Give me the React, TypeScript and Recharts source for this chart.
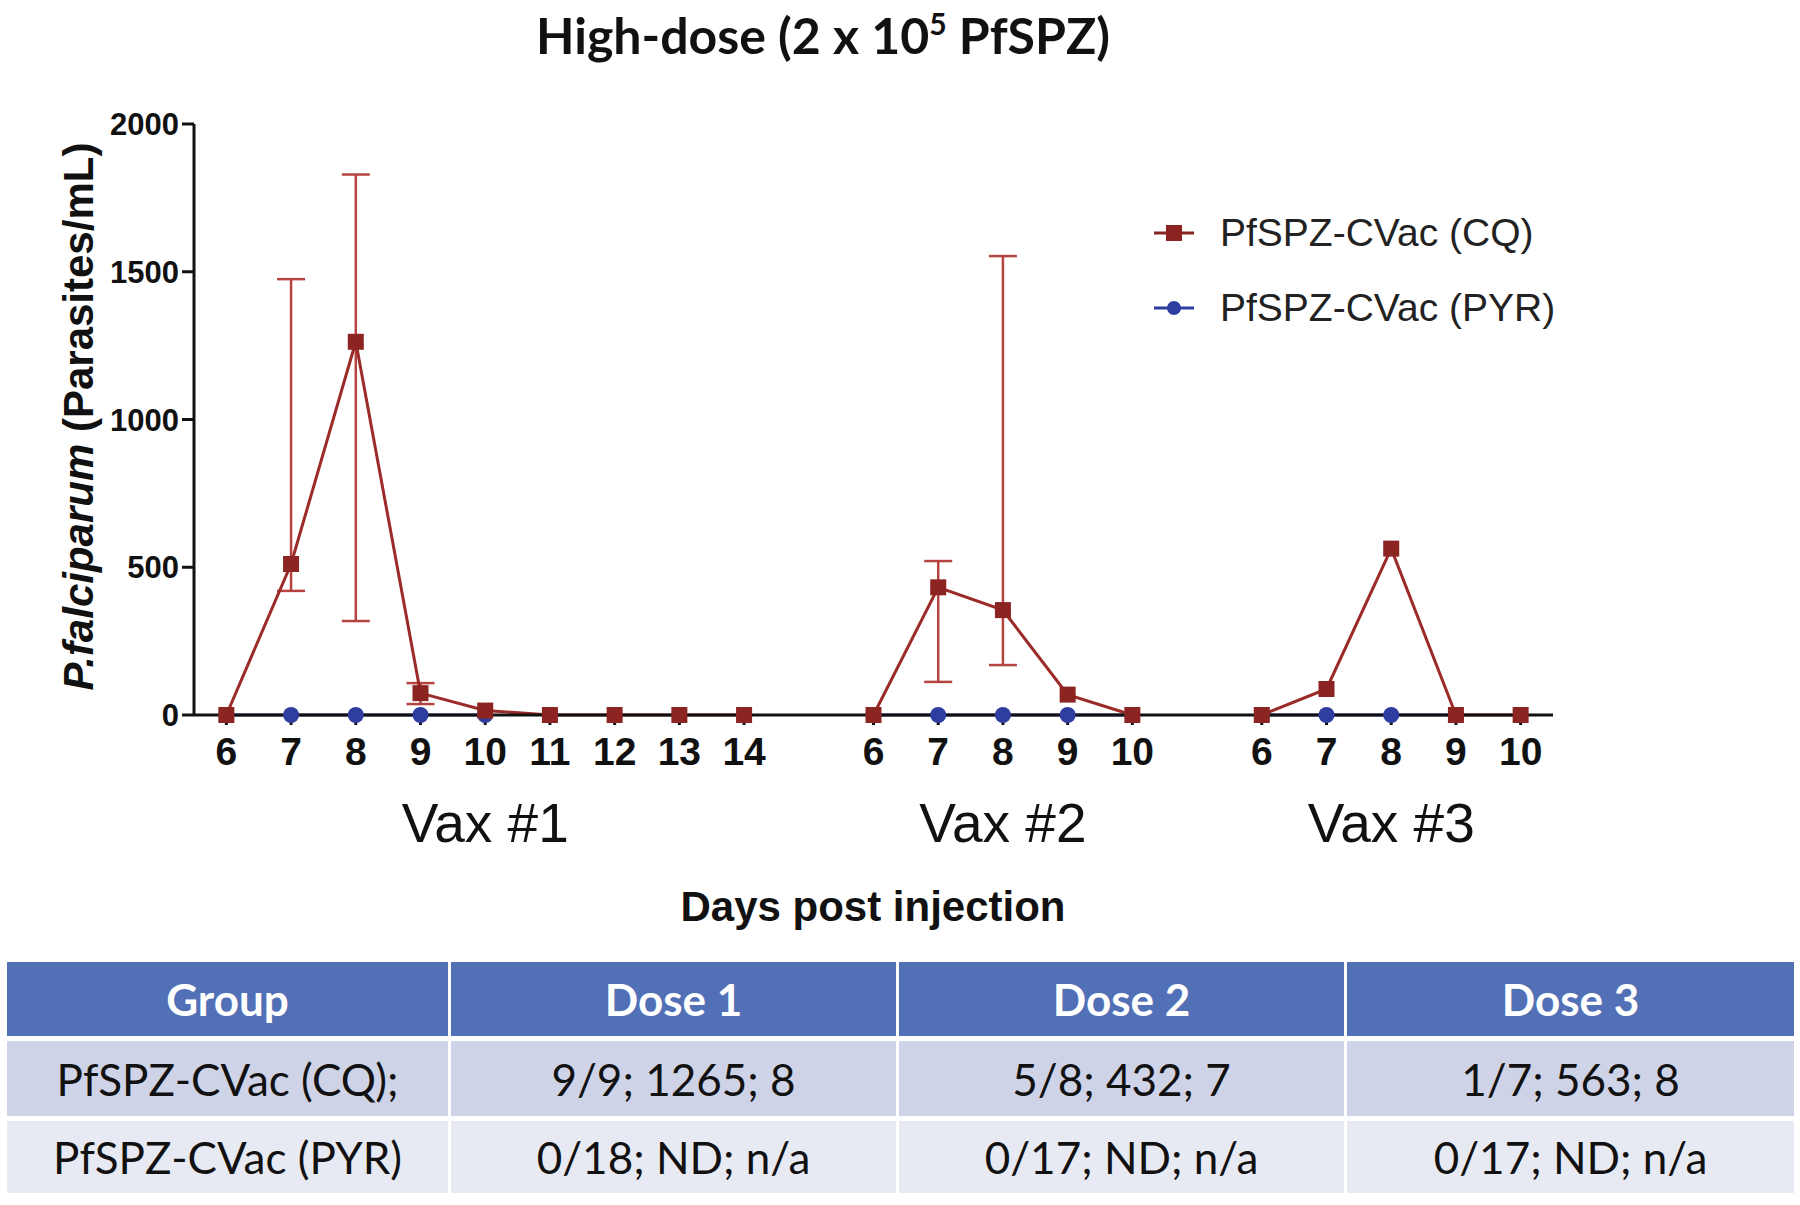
import { LineChart, Line, XAxis, YAxis, ErrorBar } from "recharts";

// days sampled after each vaccination
const vax1Days = [6, 7, 8, 9, 10, 11, 12, 13, 14];
const vax2Days = [6, 7, 8, 9, 10];
const vax3Days = [6, 7, 8, 9, 10];
const groupLabels = ["Vax #1", "Vax #2", "Vax #3"];

// PfSPZ-CVac (CQ) means + error bar bounds
const cqVax1 = [0, 511, 1263, 74, 15, 0, 0, 0, 0];
const cqVax1Low = [null, 420, 318, 37, null, null, null, null, null];
const cqVax1High = [null, 1475, 1829, 108, null, null, null, null, null];
const cqVax2 = [0, 432, 355, 69, 0];
const cqVax2Low = [null, 112, 169, null, null];
const cqVax2High = [null, 521, 1553, null, null];
const cqVax3 = [0, 88, 563, 0, 0];
const cqVax3Low = [null, null, null, null, null];
const cqVax3High = [null, null, null, null, null];

// PfSPZ-CVac (PYR)
const pyrVax1 = [0, 0, 0, 0, 0, null, null, null, null];
const pyrVax2 = [0, 0, 0, 0, 0];
const pyrVax3 = [0, 0, 0, 0, null];

const yTicks = [0, 500, 1000, 1500, 2000];

const tableHeader = ["Group", "Dose 1", "Dose 2", "Dose 3"];
const tableCq = ["PfSPZ-CVac (CQ);", "9/9; 1265; 8", "5/8; 432; 7", "1/7; 563; 8"];
const tablePyr = ["PfSPZ-CVac (PYR)", "0/18; ND; n/a", "0/17; ND; n/a", "0/17; ND; n/a"];

const groups = [
  { days: vax1Days, cq: cqVax1, lo: cqVax1Low, hi: cqVax1High, pyr: pyrVax1 },
  { days: vax2Days, cq: cqVax2, lo: cqVax2Low, hi: cqVax2High, pyr: pyrVax2 },
  { days: vax3Days, cq: cqVax3, lo: cqVax3Low, hi: cqVax3High, pyr: pyrVax3 },
];

// lay groups out on one numeric axis, with a 2-slot gap between them
const data: any[] = [];
const dayTicks: number[] = [];
const dayAt: Record<number, number> = {};
const groupTicks: number[] = [];
let pos = 0;
groups.forEach((g, gi) => {
  if (gi > 0) {
    data.push({ pos: pos, cq: null, pyr: null });
    pos += 1;
  }
  groupTicks.push(pos + (g.days.length - 1) / 2);
  g.days.forEach((d, i) => {
    const v = g.cq[i];
    const lo = g.lo[i];
    const hi = g.hi[i];
    data.push({
      pos,
      cq: v,
      pyr: g.pyr[i],
      err: lo == null || hi == null ? null : [v - lo, hi - v],
    });
    dayTicks.push(pos);
    dayAt[pos] = d;
    pos += 1;
  });
});
const xDomain = [-0.5, pos - 0.5];

const RED = "#8c2422";
const RED_LINE = "#9b2b28";
const RED_ERR = "#b54440";
const BLUE = "#2f3da0";

const SquareDot = (props: any) => {
  const { cx, cy, key } = props;
  if (cx == null || cy == null) return <g key={key} />;
  return <rect key={key} x={cx - 8} y={cy - 8} width={16} height={16} fill={RED} />;
};

const BlueDot = (props: any) => {
  const { cx, cy, key } = props;
  if (cx == null || cy == null) return <g key={key} />;
  return <circle key={key} cx={cx} cy={cy} r={8} fill={BLUE} />;
};

const YLabel = (props: any) => {
  const vb = props.viewBox || {};
  const cx = vb.x - 36;
  const cy = vb.y + vb.height / 2 - 3;
  return (
    <text
      x={cx}
      y={cy}
      transform={`rotate(-90 ${cx} ${cy})`}
      textAnchor="middle"
      dominantBaseline="central"
      fontFamily="'Liberation Sans', Arial, sans-serif"
      fontWeight="bold"
      fontSize={42}
      fill="#111"
    >
      <tspan fontStyle="italic">P.falciparum</tspan>
      <tspan> (Parasites/mL)</tspan>
    </text>
  );
};

const DaysLabel = (props: any) => {
  const vb = props.viewBox || {};
  return (
    <text
      x={873}
      y={vb.y + vb.height - 14}
      textAnchor="middle"
      fontFamily="'Liberation Sans', Arial, sans-serif"
      fontWeight="bold"
      fontSize={42}
      fill="#111"
    >
      Days post injection
    </text>
  );
};

function LegendRow({ color, square, label, top }: any) {
  return (
    <div style={{ position: "absolute", left: 1152, top, height: 40, display: "flex", alignItems: "center" }}>
      <svg width={44} height={20}>
        <line x1={2} y1={10} x2={42} y2={10} stroke={color} strokeWidth={3} />
        {square ? (
          <rect x={14} y={2} width={16} height={16} fill={color} />
        ) : (
          <circle cx={22} cy={10} r={7} fill={color} />
        )}
      </svg>
      <span
        style={{
          marginLeft: 24,
          fontFamily: "'Liberation Sans', Arial, sans-serif",
          fontSize: 39,
          color: "#222",
          whiteSpace: "nowrap",
        }}
      >
        {label}
      </span>
    </div>
  );
}

const cellFont = "Lato, 'Open Sans', sans-serif";

function TableRow({ cells, bg, color, bold, height }: any) {
  return (
    <div style={{ display: "grid", gridTemplateColumns: "441px 445px 445px 447px", columnGap: 3, height }}>
      {cells.map((c: string, i: number) => (
        <div
          key={i}
          style={{
            background: bg,
            color,
            fontFamily: cellFont,
            fontWeight: bold ? 700 : 400,
            fontSize: 44,
            display: "flex",
            alignItems: "center",
            justifyContent: "center",
            whiteSpace: "nowrap",
          }}
        >
          {c}
        </div>
      ))}
    </div>
  );
}

export default function App() {
  return (
    <div style={{ position: "absolute", left: 0, top: 0, width: 1800, height: 1205, background: "#fff", overflow: "hidden" }}>
      <div
        style={{
          position: "absolute",
          left: 0,
          top: 6,
          width: 1646,
          textAlign: "center",
          fontFamily: "Lato, 'Open Sans', sans-serif",
          fontWeight: 700,
          fontSize: 50,
          lineHeight: "58px",
          color: "#111",
        }}
      >
        High-dose (2 x 10<sup style={{ fontSize: 30, verticalAlign: "top", lineHeight: "34px" }}>5</sup> PfSPZ)
      </div>

      <div style={{ position: "absolute", left: 0, top: 0 }}>
        <LineChart width={1800} height={960} data={data} margin={{ top: 124, right: 247, bottom: 25, left: 114 }}>
          <XAxis
            xAxisId="day"
            dataKey="pos"
            type="number"
            domain={xDomain}
            ticks={dayTicks}
            allowDataOverflow
            tickFormatter={(v: number) => String(dayAt[v] ?? "")}
            axisLine={{ stroke: "#111", strokeWidth: 3 }}
            tickLine={{ stroke: "#111", strokeWidth: 3 }}
            tickSize={10}
            tickMargin={12}
            height={60}
            tick={{ fontFamily: "'Liberation Sans', Arial, sans-serif", fontWeight: "bold", fontSize: 39, fill: "#111" }}
            interval={0}
          />
          <XAxis
            xAxisId="grp"
            dataKey="pos"
            type="number"
            domain={xDomain}
            ticks={groupTicks}
            allowDataOverflow
            tickFormatter={(v: number) => groupLabels[groupTicks.indexOf(v)] ?? ""}
            axisLine={false}
            tickLine={false}
            tickMargin={22}
            height={160}
            tick={{ fontFamily: "'Liberation Sans', Arial, sans-serif", fontSize: 55, fill: "#111" }}
            interval={0}
            label={<DaysLabel />}
          />
          <YAxis
            domain={[0, 2000]}
            ticks={yTicks}
            width={80}
            axisLine={{ stroke: "#111", strokeWidth: 3 }}
            tickLine={{ stroke: "#111", strokeWidth: 3 }}
            tickSize={12}
            tickMargin={3}
            tick={{ fontFamily: "'Liberation Sans', Arial, sans-serif", fontWeight: "bold", fontSize: 31, fill: "#111" }}
            label={<YLabel />}
          />
          <Line
            xAxisId="day"
            dataKey="pyr"
            stroke={BLUE}
            strokeWidth={3}
            dot={<BlueDot />}
            activeDot={false}
            isAnimationActive={false}
          />
          <Line
            xAxisId="day"
            dataKey="cq"
            stroke={RED_LINE}
            strokeWidth={3}
            dot={<SquareDot />}
            activeDot={false}
            isAnimationActive={false}
          >
            <ErrorBar dataKey="err" direction="y" width={14} stroke={RED_ERR} strokeWidth={2.5} isAnimationActive={false} />
          </Line>
        </LineChart>
      </div>

      <LegendRow color={RED} square label="PfSPZ-CVac (CQ)" top={213} />
      <LegendRow color={BLUE} square={false} label="PfSPZ-CVac (PYR)" top={288} />

      <div style={{ position: "absolute", left: 7, top: 962, width: 1787, display: "flex", flexDirection: "column", rowGap: 5 }}>
        <TableRow cells={tableHeader} bg="#5270b6" color="#fff" bold height={74} />
        <TableRow cells={tableCq} bg="#cfd3e7" color="#111" height={75} />
        <TableRow cells={tablePyr} bg="#e8eaf3" color="#111" height={72} />
      </div>
    </div>
  );
}
